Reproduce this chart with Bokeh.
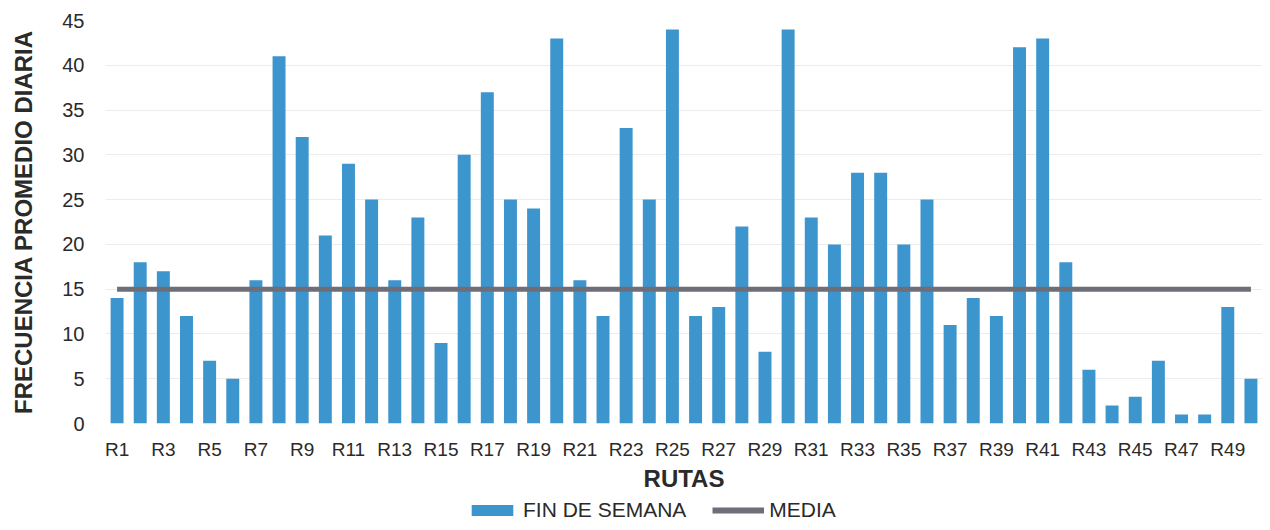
from bokeh.plotting import figure
from bokeh.layouts import column
from bokeh.models import Range1d, FixedTicker, Legend, LegendItem, ColumnDataSource
from bokeh.embed import file_html
from bokeh.resources import INLINE

rutas = ["R1", "R2", "R3", "R4", "R5", "R6", "R7", "R8", "R9", "R10",
         "R11", "R12", "R13", "R14", "R15", "R16", "R17", "R18", "R19", "R20",
         "R21", "R22", "R23", "R24", "R25", "R26", "R27", "R28", "R29", "R30",
         "R31", "R32", "R33", "R34", "R35", "R36", "R37", "R38", "R39", "R40",
         "R41", "R42", "R43", "R44", "R45", "R46", "R47", "R48", "R49", "R50"]

fin_de_semana = [14, 18, 17, 12, 7, 5, 16, 41, 32, 21,
                 29, 25, 16, 23, 9, 30, 37, 25, 24, 43,
                 16, 12, 33, 25, 44, 12, 13, 22, 8, 44,
                 23, 20, 28, 28, 20, 25, 11, 14, 12, 42,
                 43, 18, 6, 2, 3, 7, 1, 1, 13, 5]

media = [15.0] * len(rutas)

FONT = "Liberation Sans"
TXT = "#2a2a2a"
BAR_COLOR = "#3d95ce"
LINE_COLOR = "#6e6e78"

idx = list(range(1, len(rutas) + 1))
src = ColumnDataSource(data=dict(x=idx, v=fin_de_semana, m=media, r=rutas))

p = figure(width=1262, height=494,
           x_range=Range1d(0.5, len(rutas) + 0.5), y_range=Range1d(0, 45),
           output_backend="svg", toolbar_location=None,
           min_border_left=105, min_border_right=0, min_border_top=20, min_border_bottom=66)

bars = p.vbar(x="x", top="v", width=0.56, source=src, fill_color=BAR_COLOR, line_color=None)
line = p.line(x="x", y="m", source=src, line_color=LINE_COLOR, line_width=5)

p.outline_line_color = None
p.xgrid.grid_line_color = None
p.ygrid.grid_line_color = "#ececec"
p.ygrid.grid_line_width = 1

p.yaxis.ticker = FixedTicker(ticks=[0, 5, 10, 15, 20, 25, 30, 35, 40, 45])
labeled = [i for i in idx if i % 2 == 1]
p.xaxis.ticker = FixedTicker(ticks=labeled)
p.xaxis.major_label_overrides = {i: rutas[i - 1] for i in labeled}

for ax in (p.xaxis, p.yaxis):
    ax.axis_line_color = None
    ax.major_tick_line_color = None
    ax.minor_tick_line_color = None
    ax.major_label_text_font = FONT
    ax.major_label_text_color = TXT
    ax.axis_label_text_font = FONT
    ax.axis_label_text_font_style = "bold"
    ax.axis_label_text_font_size = "24px"
    ax.axis_label_text_color = TXT

p.xaxis.major_label_text_font_size = "19px"
p.yaxis.major_label_text_font_size = "20px"
p.xaxis.major_label_standoff = 9
p.yaxis.major_label_standoff = 15
p.xaxis.axis_label = "RUTAS"
p.yaxis.axis_label = "FRECUENCIA PROMEDIO DIARIA"
p.xaxis.axis_label_standoff = 2
p.yaxis.axis_label_standoff = 22

# legend strip below the chart (sample glyphs sit outside its visible range)
lf = figure(width=1262, height=28, x_range=Range1d(0, 1), y_range=Range1d(0, 1),
            output_backend="svg", toolbar_location=None, min_border=0)
lf.axis.visible = False
lf.grid.grid_line_color = None
lf.outline_line_color = None
sample = ColumnDataSource(data=dict(x=[5, 6], y=[5, 5]))
lb = lf.vbar(x="x", top="y", width=0.5, source=sample, fill_color=BAR_COLOR, line_color=None)
ll = lf.line(x="x", y="y", source=sample, line_color=LINE_COLOR, line_width=6)
legend = Legend(items=[LegendItem(label="FIN DE SEMANA", renderers=[lb]),
                       LegendItem(label="MEDIA", renderers=[ll])],
                orientation="horizontal", location=(361, 0),
                glyph_width=52, glyph_height=14, label_standoff=5, spacing=26,
                label_text_font=FONT, label_text_font_size="21px", label_text_color=TXT,
                border_line_color=None, background_fill_alpha=0, padding=0, margin=0)
lf.add_layout(legend)

layout = column(p, lf, spacing=0)
open("out.html", "w").write(file_html(layout, INLINE))
